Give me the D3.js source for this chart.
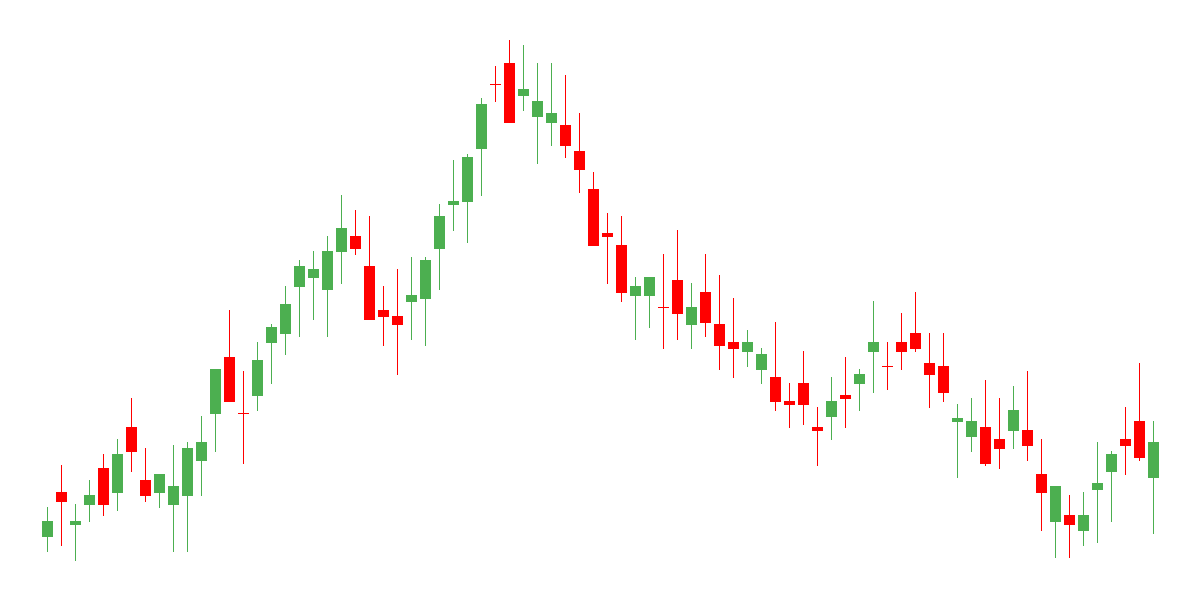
<!DOCTYPE html>
<html>
<head>
<meta charset="utf-8">
<script src="https://cdn.jsdelivr.net/npm/d3@7/dist/d3.min.js"></script>
<style>
  html, body { margin: 0; padding: 0; background: #ffffff; }
  svg { display: block; }
</style>
</head>
<body>
<svg id="chart" width="1200" height="600"></svg>
<script>
const open  = [63,108,75,95,132,107,173,120,107,95,104,139,186,243,187,204,257,266,313,322,
               310,348,364,334,290,284,298,301,351,395,398,451,516,537,504,483,477,475,449,411,
               367,355,304,304,293,320,275,308,276,258,248,230,223,199,217,173,183,205,216,248,
               234,258,267,237,234,178,163,173,161,169,170,126,78,85,69,110,128,161,179,122];
const high  = [93,135,96,120,146,161,202,152,126,155,158,184,231,290,229,258,276,314,340,349,
               364,405,390,384,314,331,343,343,396,440,446,502,534,560,555,537,537,525,487,428,
               387,384,323,323,346,370,317,346,325,302,270,252,278,217,249,193,223,243,231,299,
               258,287,308,267,267,196,202,220,202,214,229,161,114,105,108,158,149,193,237,179];
const low   = [48,54,39,78,84,89,128,98,92,48,48,104,148,198,136,189,216,245,263,280,
               263,316,345,280,254,225,260,254,310,369,357,404,498,477,489,436,454,442,407,354,
               316,298,260,272,251,260,251,263,230,222,233,216,189,172,175,134,160,172,189,207,
               210,230,248,192,198,122,148,134,131,151,139,69,42,42,54,57,78,125,139,66];
const close = [79,98,79,105,95,146,148,104,126,114,152,158,231,198,186,240,273,296,334,331,
               349,372,351,280,283,275,305,340,384,399,443,496,515,477,511,499,487,454,430,354,
               363,307,314,323,292,286,293,277,254,251,258,246,198,195,195,169,199,201,226,258,
               233,248,251,225,207,182,179,136,151,190,154,107,114,75,85,117,146,154,142,158];
const sessions = d3.range(open.length);

const upColor = "#4caf50";
const downColor = "#ff0000";

const data = sessions.map(i => ({ i, o: open[i], h: high[i], l: low[i], c: close[i] }));

const svg = d3.select("#chart");
const x = d3.scalePoint().domain(sessions).range([40.5, 1160.5]).padding(0.5);
const y = d3.scaleLinear().domain([0, 600]).range([600, 0]);
const bodyW = 11;

const g = svg.append("g");
const candles = g.selectAll("g.candle").data(data).join("g").attr("class", "candle");

candles.append("line")
  .attr("x1", d => x(d.i)).attr("x2", d => x(d.i))
  .attr("y1", d => y(d.h)).attr("y2", d => y(d.l))
  .attr("stroke", d => d.c >= d.o ? upColor : downColor)
  .attr("stroke-width", 1);

candles.append("rect")
  .attr("x", d => x(d.i) - bodyW / 2)
  .attr("y", d => y(Math.max(d.o, d.c)))
  .attr("width", bodyW)
  .attr("height", d => Math.max(1, Math.abs(y(d.o) - y(d.c))))
  .attr("fill", d => d.c >= d.o ? upColor : downColor)
  .attr("shape-rendering", "crispEdges");
</script>
</body>
</html>
